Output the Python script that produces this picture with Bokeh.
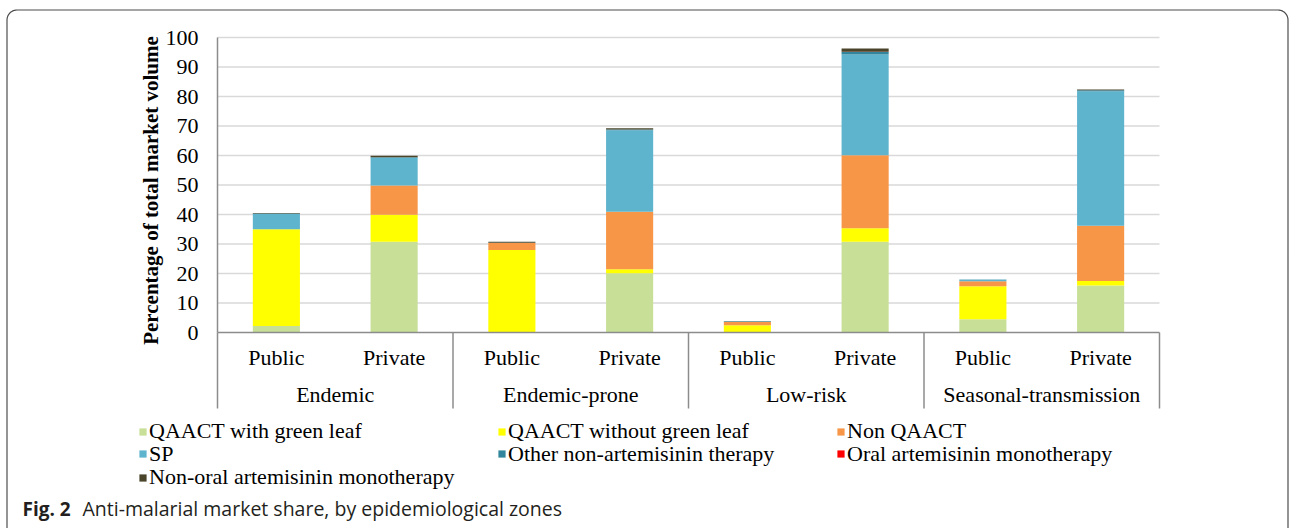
import numpy as np
from bokeh.plotting import figure
from bokeh.models import Range1d, ColumnDataSource, Legend, LegendItem
from bokeh.core.properties import value
from bokeh.embed import file_html
from bokeh.resources import INLINE

# ---------------- data ----------------
zones = ["Endemic", "Endemic-prone", "Low-risk", "Seasonal-transmission"]
sectors = ["Public", "Private"]
series = ["QAACT with green leaf", "QAACT without green leaf", "Non QAACT", "SP",
          "Other non-artemisinin therapy", "Oral artemisinin monotherapy",
          "Non-oral artemisinin monotherapy"]
# order: Endemic Public/Private, Endemic-prone Public/Private, Low-risk ..., Seasonal ...
qaact_green = [2.2, 30.8, 0.0, 20.1, 0.0, 30.8, 4.5, 15.9]
qaact_no_green = [32.8, 9.1, 28.0, 1.3, 2.5, 4.5, 11.2, 1.6]
non_qaact = [0.0, 9.9, 2.3, 19.5, 1.1, 24.8, 1.7, 18.7]
sp = [5.2, 9.4, 0.1, 27.7, 0.1, 34.1, 0.5, 45.6]
other_non_art = [0.1, 0.2, 0.0, 0.2, 0.1, 0.9, 0.1, 0.3]
oral_mono = [0.0, 0.0, 0.0, 0.0, 0.0, 0.1, 0.0, 0.0]
non_oral_mono = [0.2, 0.5, 0.4, 0.4, 0.1, 1.1, 0.0, 0.3]
y_ticks = list(range(0, 101, 10))
y_title = "Percentage of total market volume"
caption_bold = "Fig. 2"
caption_text = "Anti-malarial market share, by epidemiological zones"

colors = ["#C7DF97", "#FFFF00", "#F79646", "#5EB3CD", "#31859C", "#FF0000", "#4A452A"]

# ---------------- layout (pixel geometry of the canvas) ----------------
W, H = 1290, 528
AX_X = 217.0      # pixel x of the value axis / first category slot edge
SLOT = 117.75     # pixel width of one category slot
ZERO_Y = 332.0    # pixel y of value 0
PPU = 2.95        # pixels per percentage point
SERIF = "Liberation Serif"
SANS = "Open Sans"
GRAY = "#8C8C8C"
FS = "22px"


def X(px):
    return (np.asarray(px, dtype=float) - AX_X) / SLOT


def Y(py):
    return (ZERO_Y - np.asarray(py, dtype=float)) / PPU


factors = [(z, s) for z in zones for s in sectors]
NF = len(factors)
xc = [i + 0.5 for i in range(NF)]                    # slot centres
n_per = len(sectors)
group_centres = [g * n_per + n_per / 2 for g in range(len(zones))]
bounds = [float(g * n_per) for g in range(len(zones) + 1)]

keys = ["s%d" % i for i in range(len(series))]
data = dict(x=xc)
for k, vals in zip(keys, [qaact_green, qaact_no_green, non_qaact, sp, other_non_art,
                          oral_mono, non_oral_mono]):
    data[k] = vals
source = ColumnDataSource(data)

p = figure(width=W, height=H,
           x_range=Range1d(float(X(0)), float(X(W))),
           y_range=Range1d(float(Y(H)), float(Y(0))),
           output_backend="svg", toolbar_location=None,
           x_axis_location=None, y_axis_location=None,
           min_border=0, min_border_left=0, min_border_right=0,
           min_border_top=0, min_border_bottom=0)
p.outline_line_color = None
p.background_fill_color = "white"
p.border_fill_color = "white"
p.grid.visible = False

# horizontal gridlines
p.segment(x0=0, x1=NF, y0=y_ticks[1:], y1=y_ticks[1:], line_color="#D9D9D9", line_width=1.6)

# bars
renderers = p.vbar_stack(keys, x="x", width=0.4, source=source,
                         fill_color=colors, line_color=None)

# axis line, baseline, category separators
p.segment(x0=[0, 0], x1=[0, NF], y0=[0, 0], y1=[100, 0], line_color=GRAY, line_width=1.5)
p.segment(x0=bounds, x1=bounds, y0=0, y1=float(Y(408)), line_color=GRAY, line_width=1.5)

# value tick labels
p.text(x=float(X(198)), y=y_ticks, text=[str(t) for t in y_ticks],
       text_align="right", text_baseline="middle", text_font=value(SERIF),
       text_font_size=FS, text_color="black")
# value axis title
p.text(x=float(X(150)), y=float(Y(190)), text=[y_title], angle=np.pi / 2,
       text_align="center", text_baseline="middle", text_font=value(SERIF),
       text_font_style="bold", text_font_size="21px", text_color="black")

# category labels
p.text(x=xc, y=float(Y(357)), text=[f[1] for f in factors], text_align="center",
       text_baseline="middle", text_font=value(SERIF), text_font_size=FS,
       text_color="black")
p.text(x=group_centres, y=float(Y(394)), text=zones, text_align="center",
       text_baseline="middle", text_font=value(SERIF), text_font_size=FS,
       text_color="black")

# legend: 3 columns, row-major; one legend box per entry for exact placement
col_px = [138, 497, 836]
row_bottom_px = [444, 466.5, 490]
for i, (name, r) in enumerate(zip(series, renderers)):
    c, rw = i % 3, i // 3
    leg = Legend(items=[LegendItem(label=name, renderers=[r])],
                 location=(col_px[c], H - row_bottom_px[rw]),
                 orientation="vertical", padding=0, margin=0, spacing=0,
                 glyph_width=9, glyph_height=9, label_standoff=2,
                 label_text_font=SERIF, label_text_font_size=FS,
                 label_text_color="black", border_line_color=None,
                 background_fill_alpha=0)
    p.add_layout(leg, "center")

# caption
p.text(x=float(X(22)), y=float(Y(508)), text=[caption_bold], text_baseline="middle",
       text_font=value(SANS), text_font_style="bold", text_font_size="19px",
       text_color="#231F20")
p.text(x=float(X(82)), y=float(Y(508)), text=[caption_text], text_baseline="middle",
       text_font=value(SANS), text_font_size="19.5px", text_color="#231F20")

# card border (rounded top corners, open bottom)
r = 10
x0, x1, ytop, ybot = 6.5, 1287.5, 9.5, H + 20
a1 = np.linspace(np.pi, 1.5 * np.pi, 14)
a2 = np.linspace(1.5 * np.pi, 2 * np.pi, 14)
bx = np.concatenate([[x0], x0 + r + r * np.cos(a1), x1 - r + r * np.cos(a2), [x1]])
by = np.concatenate([[ybot], ytop + r + r * np.sin(a1), ytop + r + r * np.sin(a2), [ybot]])
p.line(x=X(bx), y=Y(by), line_color="#4D4D4D", line_width=1.2)

open("out.html", "w").write(file_html(p, INLINE))
